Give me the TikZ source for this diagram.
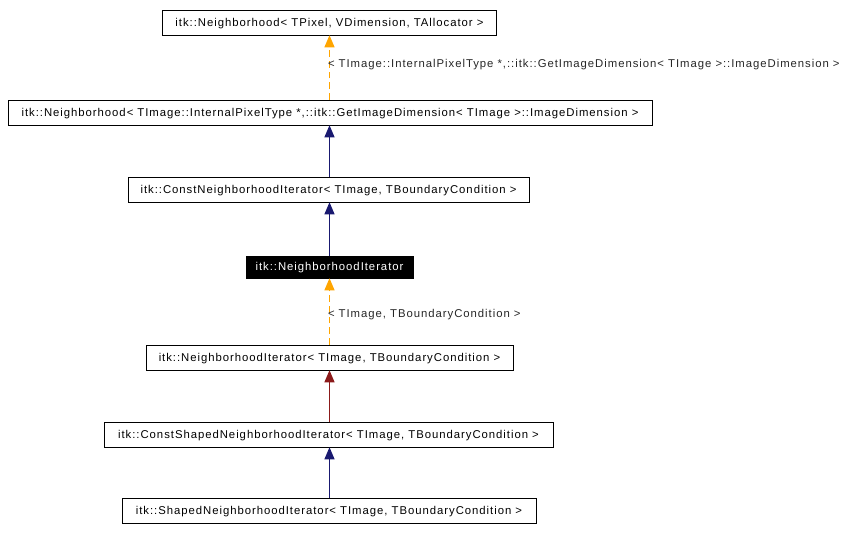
\documentclass[tikz,border=0pt]{standalone}
\usepackage{fontspec}
\setmainfont{Liberation Sans}
\newfontfamily\dxfont[LetterSpace=8.5]{Liberation Sans}
\usetikzlibrary{arrows.meta,positioning}
\definecolor{inhblue}{RGB}{25,25,112}
\definecolor{inhred}{RGB}{139,26,26}
\definecolor{tplorange}{RGB}{255,165,0}

\begin{document}
\begin{tikzpicture}[
  x=0.75pt, y=-0.75pt,
  cls/.style={draw, fill=white, inner xsep=2pt, inner ysep=0pt, text height=7.6pt, text depth=2pt, font=\dxfont\fontsize{8.5}{10}\selectfont, minimum height=18.75pt},
  cur/.style={cls, draw=black, fill=black, text=white, minimum height=16.5pt},
  inh/.style={-{Triangle[length=9pt, width=7.5pt]}, line width=0.75pt},
  tpl/.style={inh, tplorange, dashed, dash pattern=on 5pt off 3pt},
  lbl/.style={font=\dxfont\fontsize{8.5}{10}\selectfont, text=black!85, anchor=west, inner sep=0pt}
]
\useasboundingbox (0,0) rectangle (855,532);
% classes, top to bottom
\node[cls, minimum width=250.5pt] (nbh) at (329.5,22.5) {itk::Neighborhood< TPixel, VDimension, TAllocator >};
\node[cls, minimum width=483pt] (nbhimg) at (330,112.5) {itk::Neighborhood< TImage::InternalPixelType *,::itk::GetImageDimension< TImage >::ImageDimension >};
\node[cls, minimum width=300.75pt] (cnit) at (328.5,189.5) {itk::ConstNeighborhoodIterator< TImage, TBoundaryCondition >};
\node[cur, minimum width=125.25pt] (nit) at (329.5,267) {itk::NeighborhoodIterator};
\node[cls, minimum width=275.25pt] (nittpl) at (329.5,357.5) {itk::NeighborhoodIterator< TImage, TBoundaryCondition >};
\node[cls, minimum width=336.75pt] (csnit) at (328.5,434.5) {itk::ConstShapedNeighborhoodIterator< TImage, TBoundaryCondition >};
\node[cls, minimum width=310.5pt] (snit) at (329,510.5) {itk::ShapedNeighborhoodIterator< TImage, TBoundaryCondition >};
% edges
\draw[tpl] (nbhimg.north -| nbh.south) -- (nbh.south) node[lbl, pos=0.55, xshift=-1.5pt] {< TImage::InternalPixelType *,::itk::GetImageDimension< TImage >::ImageDimension >};
\draw[inh, inhblue] (cnit.north -| nbh.south) -- (nbhimg.south -| nbh.south);
\draw[inh, inhblue] (nit.north -| nbh.south) -- (cnit.south -| nbh.south);
\draw[tpl] (nittpl.north -| nbh.south) -- (nit.south -| nbh.south) node[lbl, pos=0.45, xshift=-1.5pt] {< TImage, TBoundaryCondition >};
\draw[inh, inhred] (csnit.north -| nbh.south) -- (nittpl.south -| nbh.south);
\draw[inh, inhblue] (snit.north -| nbh.south) -- (csnit.south -| nbh.south);
\end{tikzpicture}
\end{document}
